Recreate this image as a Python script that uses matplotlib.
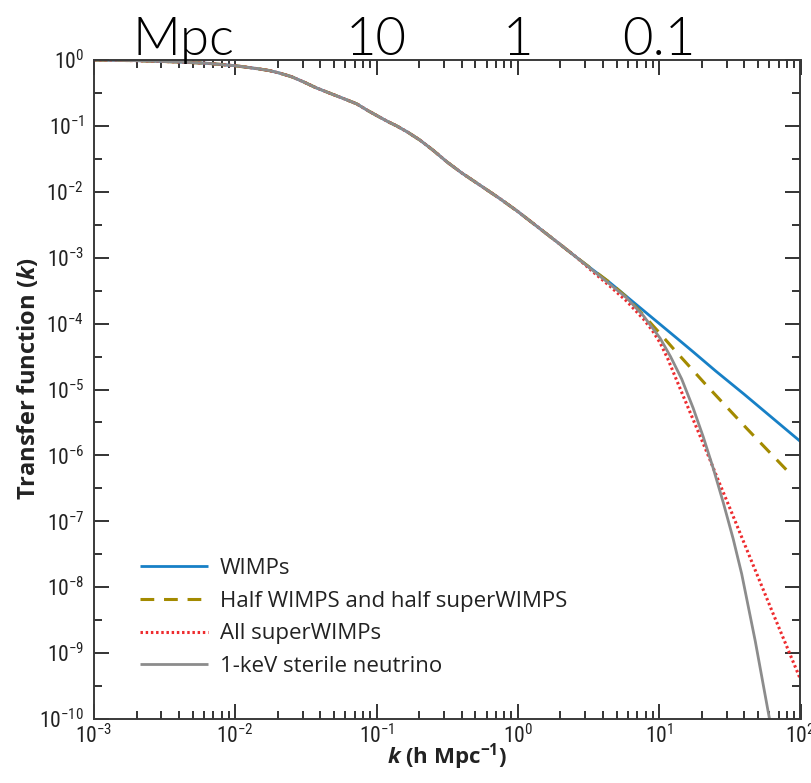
import matplotlib
matplotlib.use("Agg")
import matplotlib.pyplot as plt
from matplotlib import font_manager as fm
from matplotlib.ticker import FixedLocator, FixedFormatter, NullFormatter
from matplotlib.transforms import blended_transform_factory

# ---------------- data (log10 values) ----------------
# shared part of all four curves
common_logk = [-3.0, -2.7, -2.4, -2.2, -2.0, -1.85, -1.76, -1.684, -1.6, -1.519, -1.43,
               -1.33, -1.24, -1.141, -1.06, -0.976, -0.92, -0.858, -0.78, -0.693, -0.6,
               -0.5, -0.4, -0.268, -0.13, 0.0, 0.156, 0.3, 0.418]
common_logT = [0.0, -0.01, -0.03, -0.05, -0.087, -0.13, -0.16, -0.20, -0.255, -0.33, -0.42,
               -0.505, -0.58, -0.665, -0.77, -0.87, -0.935, -1.0, -1.095, -1.216, -1.37,
               -1.55, -1.71, -1.90, -2.10, -2.30, -2.56, -2.80, -3.0]

wimp_logk = [0.534, 0.652, 0.77, 0.888, 1.006, 1.124, 1.241, 1.4, 1.6, 1.8, 2.0]
wimp_logT = [-3.19, -3.38, -3.59, -3.80, -4.01, -4.22, -4.43, -4.72, -5.07, -5.43, -5.79]

half_logk = [0.534, 0.652, 0.77, 0.888, 1.006, 1.1, 1.336, 1.619, 1.914]
half_logT = [-3.19, -3.38, -3.60, -3.87, -4.15, -4.38, -4.94, -5.59, -6.25]

sw_logk = [0.534, 0.65, 0.77, 0.888, 0.95, 1.006, 1.06, 1.112, 1.18, 1.241, 1.30, 1.36,
           1.43, 1.50, 1.643, 1.80, 2.0]
sw_logT = [-3.22, -3.43, -3.66, -3.93, -4.10, -4.29, -4.53, -4.80, -5.15, -5.46, -5.76,
           -6.07, -6.44, -6.80, -7.55, -8.37, -9.40]

nu_logk = [0.534, 0.65, 0.77, 0.888, 1.006, 1.08, 1.159, 1.24, 1.312, 1.383, 1.454, 1.524,
           1.584, 1.68, 1.779, 1.80]
nu_logT = [-3.20, -3.40, -3.61, -3.88, -4.22, -4.50, -4.84, -5.28, -5.72, -6.20, -6.72,
           -7.27, -7.80, -8.82, -9.98, -10.25]

labels = ["WIMPs", "Half WIMPS and half superWIMPS", "All superWIMPs",
          "1-keV sterile neutrino"]
colors = ["#1780c6", "#a38a00", "#ee2b2e", "#8c8c8c"]

x_major_exp = [-3, -2, -1, 0, 1, 2]
y_major_exp = list(range(-10, 1))
top_labels = ["Mpc", "10", "1", "0.1"]
top_label_logk = [-2.37, -1, 0, 1]

# ---------------- fonts ----------------
avail = {f.name for f in fm.fontManager.ttflist}
def pick(*names):
    for n in names:
        if n in avail:
            return n
    return "DejaVu Sans"

narrow = pick("Liberation Sans Narrow", "Roboto Condensed", "Liberation Sans")
sans = pick("Open Sans", "Noto Sans", "Lato")
thin = pick("Lato", "Noto Sans")

plt.rcParams["font.family"] = [sans, "DejaVu Sans"]
plt.rcParams["mathtext.fontset"] = "custom"
plt.rcParams["mathtext.it"] = f"{sans}:italic:bold"
plt.rcParams["mathtext.rm"] = f"{sans}:bold"
plt.rcParams["mathtext.bf"] = f"{sans}:bold"


def ex(vals):
    return [10.0 ** v for v in vals]

# ---------------- figure ----------------
W, H = 812, 783
fig = plt.figure(figsize=(W / 100, H / 100), dpi=100)
L, R, T, B = 94, 800.5, 60, 719
ax = fig.add_axes([L / W, 1 - B / H, (R - L) / W, (B - T) / H])

series = [
    (wimp_logk, wimp_logT, dict(ls="-", lw=2.0)),
    (half_logk, half_logT, dict(ls=(0, (4.5, 3.2)), lw=2.2)),
    (sw_logk, sw_logT, dict(ls=(0, (0.8, 0.9)), lw=2.2)),
    (nu_logk, nu_logT, dict(ls="-", lw=2.0)),
]
handles = []
for (lk, lt, st), c, lab in zip(series, colors, labels):
    kk = ex(common_logk + lk)
    tt = ex(common_logT + lt)
    h, = ax.plot(kk, tt, color=c, label=lab, solid_capstyle="butt",
                 solid_joinstyle="round", **st)
    handles.append(h)

ax.set_xscale("log")
ax.set_yscale("log")
ax.set_xlim(1e-3, 1e2)
ax.set_ylim(1e-10, 1e0)

ax.xaxis.set_major_locator(FixedLocator(ex(x_major_exp)))
ax.xaxis.set_major_formatter(FixedFormatter([r"$\mathregular{10^{%d}}$" % e for e in x_major_exp]))
xminor = [m * 10.0 ** e for e in x_major_exp[:-1] for m in range(2, 10)]
ax.xaxis.set_minor_locator(FixedLocator(xminor))
ax.xaxis.set_minor_formatter(NullFormatter())

ax.yaxis.set_major_locator(FixedLocator(ex(y_major_exp)))
ax.yaxis.set_major_formatter(FixedFormatter([r"$\mathregular{10^{%d}}$" % e for e in y_major_exp]))
ax.yaxis.set_minor_locator(FixedLocator([10.0 ** (e + 0.5) for e in y_major_exp[:-1]]))
ax.yaxis.set_minor_formatter(NullFormatter())

for s in ax.spines.values():
    s.set_color("#3a3a3a")
    s.set_linewidth(1.4)
ax.tick_params(which="both", direction="in", top=True, right=True, color="#111111", width=1.2)
ax.tick_params(which="major", length=11)
ax.tick_params(which="minor", length=5.5)
ax.tick_params(axis="y", which="major", pad=7)
ax.tick_params(axis="x", which="major", pad=4)
for lbl in ax.get_xticklabels() + ax.get_yticklabels():
    lbl.set_fontfamily([narrow, "DejaVu Sans"])
    lbl.set_fontsize(15.5)
    lbl.set_color("#222222")

# top wavelength labels
btr = blended_transform_factory(ax.transData, ax.transAxes)
for lab, lk in zip(top_labels, top_label_logk):
    ax.text(10.0 ** lk, 1.008, lab, transform=btr, ha="center", va="baseline",
            fontsize=38, fontfamily=[thin, "DejaVu Sans"], fontweight=300,
            color="black")

# legend
leg = ax.legend(handles=handles, loc="lower left", bbox_to_anchor=(0.052, 0.05),
                frameon=False, fontsize=16, handlelength=3.06, handletextpad=0.54,
                labelspacing=0.53, borderaxespad=0)
for t in leg.get_texts():
    t.set_color("#222222")

# axis labels
fig.text(29 / W, 1 - 379 / H, r"Transfer function ($k$)", rotation=90, ha="center",
         va="center", fontsize=17, fontweight="bold", color="#222222")
fig.text(447 / W, 1 - 757 / H, r"$k$ (h Mpc$^{\mathregular{-1}}$)", ha="center",
         va="center", fontsize=16, fontweight="bold", color="#222222")

fig.savefig("out.png", dpi=100)
